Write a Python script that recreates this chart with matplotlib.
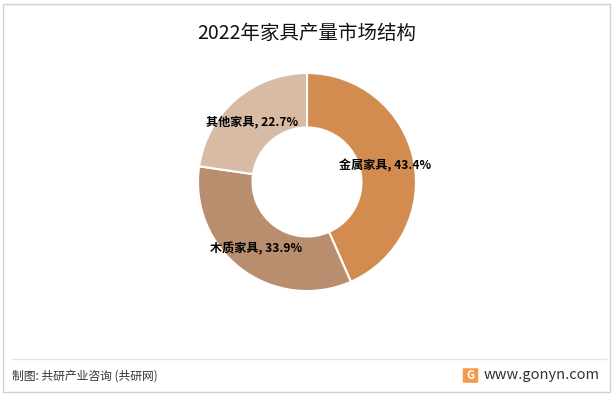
import matplotlib.pyplot as plt
from matplotlib.patches import Rectangle, FancyBboxPatch
from matplotlib.lines import Line2D

plt.rcParams['font.family'] = ['Noto Sans CJK SC', 'DejaVu Sans']

# data
categories = ['金属家具', '木质家具', '其他家具']
shares = [43.4, 33.9, 22.7]
colors = ['#D38C4F', '#B98E6E', '#D7BBA5']
label_pos = [(0.72, 0.15), (-0.47, -0.61), (-0.50, 0.55)]

W, H = 616, 395
fig = plt.figure(figsize=(W / 100, H / 100), dpi=100)

# pie axes: centre (307,182) px, radius 109 px
cx, cy, r = 307, 182, 109
ax = fig.add_axes([(cx - r) / W, (H - cy - r) / H, 2 * r / W, 2 * r / H])
ax.pie(shares, colors=colors, startangle=90, counterclock=False,
       radius=1.0, wedgeprops=dict(width=0.5, edgecolor='white', linewidth=1.5))
ax.set_xlim(-1, 1)
ax.set_ylim(-1, 1)
ax.set_aspect('equal')
ax.axis('off')

for name, val, (x, y) in zip(categories, shares, label_pos):
    ax.text(x, y, '{}, {:.1f}%'.format(name, val), ha='center', va='center',
            fontsize=8.7, fontweight='bold', color='black')

# title
fig.text(307 / W, 1 - 33 / H, '2022年家具产量市场结构', ha='center', va='center',
         fontsize=14, color='#111111')

# frame and separator
fig.patches.append(Rectangle((3 / W, 3 / H), 607 / W, 388 / H, transform=fig.transFigure,
                             fill=False, edgecolor='#D0D0D0', linewidth=1))
fig.lines.append(Line2D([12 / W, 606 / W], [1 - 359 / H, 1 - 359 / H],
                        transform=fig.transFigure, color='#E3E3E3', linewidth=1))

# footer
fig.text(12 / W, 1 - 376 / H, '制图: 共研产业咨询 (共研网)', ha='left', va='center',
         fontsize=8.5, color='#333333')
fig.text(600 / W, 1 - 375 / H, 'www.gonyn.com', ha='right', va='center',
         fontsize=10.5, color='#333333')
fig.patches.append(FancyBboxPatch((464 / W, 1 - 382 / H), 13 / W, 13 / H,
                                  boxstyle='round,pad=0.002', transform=fig.transFigure,
                                  facecolor='#F39A4A', edgecolor='none'))
fig.text(470.5 / W, 1 - 375.5 / H, 'G', ha='center', va='center', fontsize=8,
         fontweight='bold', color='white')

fig.savefig('out.png', dpi=100)
